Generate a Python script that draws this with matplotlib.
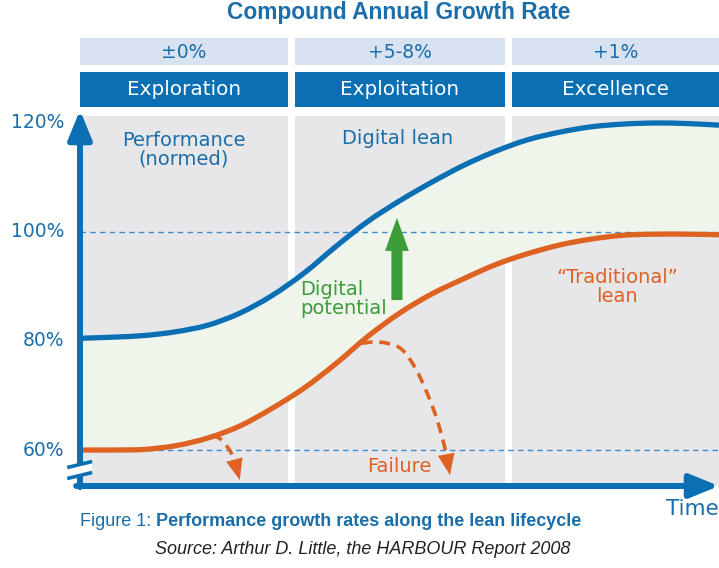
import matplotlib
matplotlib.use("Agg")
import matplotlib.pyplot as plt
from matplotlib.patches import Rectangle, FancyArrowPatch, PathPatch
from matplotlib.path import Path

# ---------------- data ----------------
time = [0, 0.5, 1, 1.5, 2, 2.5, 3, 3.5, 4, 4.5, 5, 5.5, 6, 6.5, 7, 7.5, 8, 8.5, 9, 9.5, 10]
digital_lean = [80.5, 80.7, 81.0, 81.7, 82.9, 85.1, 88.3, 92.4, 97.3, 101.9, 105.7,
                109.1, 112.2, 114.8, 116.9, 118.3, 119.3, 119.8, 120.0, 119.9, 119.6]
traditional_lean = [60.0, 60.0, 60.1, 60.8, 62.2, 64.4, 67.6, 71.3, 75.8, 80.8, 85.1,
                    88.6, 91.4, 94.0, 96.0, 97.6, 98.7, 99.4, 99.6, 99.6, 99.5]

# failure paths (time, performance); last point = arrow tip
failure_small_t = [2.07, 2.22, 2.36, 2.43, 2.50]
failure_small_v = [62.75, 61.8, 59.6, 57.6, 54.5]
failure_big_t = [4.41, 4.69, 5.01, 5.24, 5.43, 5.59, 5.71, 5.74, 5.79]
failure_big_v = [79.6, 79.8, 78.7, 75.2, 70.5, 65.5, 60.4, 58.6, 55.4]

digital_potential_t = 4.96
digital_potential_from = 87.0
digital_potential_to = 103.1

phases = ["Exploration", "Exploitation", "Excellence"]
cagr = ["\u00b10%", "+5-8%", "+1%"]
phase_bounds = [0, 3.31, 6.706, 10]
yticks = [60, 80, 100, 120]
ytick_labels = ["60%", "80%", "100%", "120%"]
ref_lines = [60, 100]

# ---------------- style ----------------
BLUE = "#0b6fb4"
ORANGE = "#de6222"
GREEN = "#3c9c3a"
GRAY = "#e7e7e9"
FILL = "#f0f5ec"
LIGHTHEAD = "#d8e2f1"
DASH = "#3f8ccb"
TXT = "#1a6ea9"


def smooth_path(xs, ys):
    """Catmull-Rom spline through the given points as cubic Bezier path data."""
    pts = list(zip(xs, ys))
    n = len(pts)
    verts = [pts[0]]
    codes = [Path.MOVETO]
    for i in range(n - 1):
        p0 = pts[i - 1] if i > 0 else pts[i]
        p1 = pts[i]
        p2 = pts[i + 1]
        p3 = pts[i + 2] if i + 2 < n else pts[i + 1]
        c1 = (p1[0] + (p2[0] - p0[0]) / 6, p1[1] + (p2[1] - p0[1]) / 6)
        c2 = (p2[0] - (p3[0] - p1[0]) / 6, p2[1] - (p3[1] - p1[1]) / 6)
        verts += [c1, c2, p2]
        codes += [Path.CURVE4] * 3
    return verts, codes


W, H = 719, 568
fig = plt.figure(figsize=(W / 100, H / 100), dpi=100)
fig.patch.set_facecolor("white")

ax_l, ax_r, ax_t, ax_b = 80, 719, 112, 486
ax = fig.add_axes([ax_l / W, 1 - ax_b / H, (ax_r - ax_l) / W, (ax_b - ax_t) / H])
ax.set_xlim(0, 10)
ppv = 109 / 20.0
ax.set_ylim(60 - (ax_b - 450) / ppv, 60 + (450 - ax_t) / ppv)
ax.axis("off")
y0, y1 = ax.get_ylim()


def yv(py):
    return 60 + (450 - py) / ppv


FONT = "DejaVu Sans"
NARROW = "Liberation Sans"

# gray phase panels + header boxes
gap = 0.055
for i in range(3):
    a = phase_bounds[i] + (gap if i > 0 else 0)
    b = phase_bounds[i + 1] - (gap if i < 2 else 0)
    ax.add_patch(Rectangle((a, y0), b - a, yv(116) - y0, facecolor=GRAY,
                           edgecolor="none", zorder=0))
    ax.add_patch(Rectangle((a, yv(107)), b - a, yv(72) - yv(107), facecolor=BLUE,
                           edgecolor="none", clip_on=False, zorder=1))
    ax.add_patch(Rectangle((a, yv(65)), b - a, yv(38) - yv(65), facecolor=LIGHTHEAD,
                           edgecolor="none", clip_on=False, zorder=1))
    cx = (a + b) / 2
    ax.text(cx, yv(90), phases[i], ha="center", va="center", color="white",
            fontsize=14.4, family=FONT, clip_on=False)
    ax.text(cx, yv(52), cagr[i], ha="center", va="center", color=TXT,
            fontsize=13.5, family=FONT, clip_on=False)

# fill between curves (smooth)
uv, uc = smooth_path(time, digital_lean)
lv, lc = smooth_path(time[::-1], traditional_lean[::-1])
fill_verts = uv + [lv[0]] + lv[1:] + [uv[0]]
fill_codes = uc + [Path.LINETO] + lc[1:] + [Path.CLOSEPOLY]
ax.add_patch(PathPatch(Path(fill_verts, fill_codes), facecolor=FILL, edgecolor="none",
                       zorder=1))

# reference dashed lines
for r in ref_lines:
    ax.plot([0, 10], [r, r], color=DASH, lw=1.0, dashes=(4, 3), zorder=2)

# curves
for ys, col in [(digital_lean, BLUE), (traditional_lean, ORANGE)]:
    v, c = smooth_path(time, ys)
    ax.add_patch(PathPatch(Path(v, c), facecolor="none", edgecolor=col, lw=3.8,
                           capstyle="butt", zorder=4))

# failure arrows
for ft, fv in [(failure_small_t, failure_small_v), (failure_big_t, failure_big_v)]:
    v, c = smooth_path(ft[:-1], fv[:-1])
    ax.add_patch(PathPatch(Path(v, c), facecolor="none", edgecolor=ORANGE, lw=2.6,
                           linestyle=(0, (3, 1.9)), capstyle="butt", zorder=3))
    ax.annotate("", xy=(ft[-1], fv[-1]), xytext=(ft[-2], fv[-2]),
                arrowprops=dict(arrowstyle="-|>,head_length=1.25,head_width=0.5",
                                color=ORANGE, lw=0.1, mutation_scale=12,
                                shrinkA=0, shrinkB=0), zorder=3)

# digital potential arrow
ax.add_patch(FancyArrowPatch((digital_potential_t, digital_potential_from),
                             (digital_potential_t, digital_potential_to),
                             arrowstyle="simple,head_length=1.25,head_width=0.9,tail_width=0.42",
                             mutation_scale=19, color=GREEN, lw=0, zorder=5))

# axes arrows
ax.add_patch(FancyArrowPatch((0, y0 - 0.2), (0, yv(110)),
                             arrowstyle="-|>,head_length=1.35,head_width=0.55",
                             mutation_scale=13, color=BLUE, lw=4.3,
                             shrinkA=0, shrinkB=0, clip_on=False, zorder=6))
ax.add_patch(FancyArrowPatch((-0.06, y0), (10.0, y0),
                             arrowstyle="-|>,head_length=1.35,head_width=0.55",
                             mutation_scale=13, color=BLUE, lw=4.3,
                             shrinkA=0, shrinkB=0, clip_on=False, zorder=6))

# axis break
bx = [-0.2, 0.19]
ax.fill([bx[0], bx[1], bx[1], bx[0]], [yv(468), yv(462), yv(472), yv(478)],
        color="white", lw=0, clip_on=False, zorder=7)
ax.plot(bx, [yv(467.5), yv(461.5)], color=BLUE, lw=2.6, clip_on=False, zorder=8,
        solid_capstyle="butt")
ax.plot(bx, [yv(478.5), yv(472.5)], color=BLUE, lw=2.6, clip_on=False, zorder=8,
        solid_capstyle="butt")

# y tick labels
for v, lab in zip(yticks, ytick_labels):
    ax.text(-0.24, v, lab, ha="right", va="center", color=TXT, fontsize=13.5,
            family=FONT, clip_on=False)

# annotations
ax.text((184 - 80) / 63.9, yv(150), "Performance\n(normed)", ha="center", va="center",
        color=TXT, fontsize=14, family=FONT, linespacing=1.0)
ax.text((398 - 80) / 63.9, yv(139), "Digital lean", ha="center", va="center",
        color=TXT, fontsize=14, family=FONT)
ax.text((300 - 80) / 63.9, yv(299), "Digital\npotential", ha="left", va="center",
        color=GREEN, fontsize=14, family=FONT, linespacing=0.95)
ax.text((617 - 80) / 63.9, yv(287), "\u201cTraditional\u201d\nlean", ha="center",
        va="center", color=ORANGE, fontsize=14, family=FONT, linespacing=0.95)
ax.text((399 - 80) / 63.9, yv(466), "Failure", ha="center", va="center",
        color=ORANGE, fontsize=14, family=FONT)

# title, time label, captions
fig.text(399 / W, 1 - 12 / H, "Compound Annual Growth Rate", ha="center", va="center",
         color=TXT, fontsize=16.4, fontweight="bold", family=NARROW)
fig.text(719 / W, 1 - 509 / H, "Time", ha="right", va="center", color=TXT,
         fontsize=15.5, family=FONT)
t1 = fig.text(80 / W, 1 - 521 / H, "Figure 1: ", ha="left", va="center", color=TXT,
              fontsize=13, family=NARROW)
fig.canvas.draw()
bb = t1.get_window_extent(renderer=fig.canvas.get_renderer())
fig.text(bb.x1 / W, 1 - 521 / H, "Performance growth rates along the lean lifecycle",
         ha="left", va="center", color=TXT, fontsize=13, fontweight="bold",
         family=NARROW)
fig.text(363 / W, 1 - 549 / H, "Source: Arthur D. Little, the HARBOUR Report 2008",
         ha="center", va="center", color="#222222", fontsize=13, style="italic",
         family=NARROW)

fig.savefig("out.png", dpi=100, facecolor="white")
